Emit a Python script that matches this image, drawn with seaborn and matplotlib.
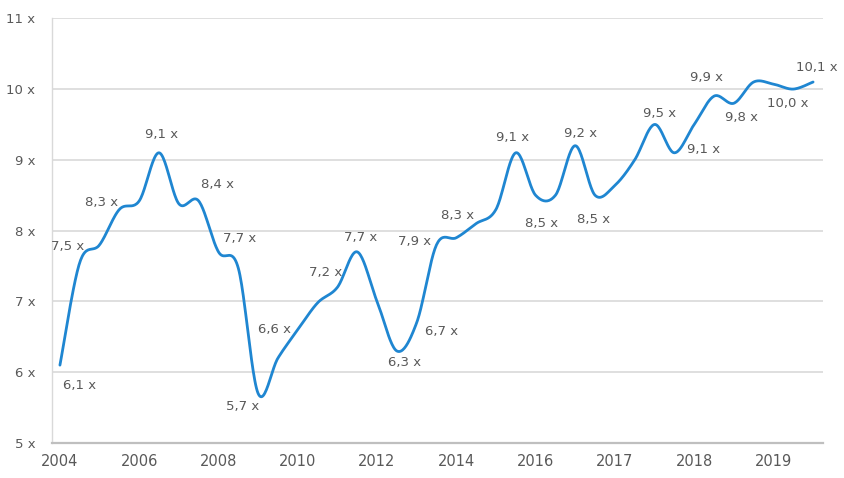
import numpy as np
import pandas as pd
import matplotlib
matplotlib.use("Agg")
import matplotlib.pyplot as plt
import seaborn as sns

# ---- data ----
values = [6.1, 7.55, 7.8, 8.3, 8.42, 9.1, 8.38, 8.42, 7.7, 7.47,
          5.7, 6.2, 6.6, 6.98, 7.2, 7.7, 7.0, 6.3, 6.7, 7.8,
          7.9, 8.1, 8.3, 9.1, 8.5, 8.5, 9.2, 8.5, 8.64, 9.0,
          9.5, 9.1, 9.5, 9.9, 9.8, 10.1, 10.07, 10.0, 10.1]
tick_labels = ["2004", "2006", "2008", "2010", "2012", "2014",
               "2016", "2017", "2018", "2019"]
y_ticks = [5, 6, 7, 8, 9, 10, 11]
label_idx = [0, 1, 3, 5, 7, 8, 10, 12, 14, 15, 17, 18, 19, 22, 23,
             24, 26, 27, 30, 31, 33, 34, 37, 38]
label_text = ["6,1 x", "7,5 x", "8,3 x", "9,1 x", "8,4 x", "7,7 x", "5,7 x",
              "6,6 x", "7,2 x", "7,7 x", "6,3 x", "6,7 x", "7,9 x", "8,3 x",
              "9,1 x", "8,5 x", "9,2 x", "8,5 x", "9,5 x", "9,1 x", "9,9 x",
              "9,8 x", "10,0 x", "10,1 x"]

# label placement offsets in pixels (dx, dy up)
label_offsets = [(20, -20), (-12, 16), (-18, 7), (3, 18), (19, 16), (21, 13),
                 (-16, -13), (-23, 0), (-12, 15), (3, 14), (8, -12), (25, -9),
                 (-22, 3), (-38, -6), (-3, 15), (6, -28), (5, 12), (-2, -24),
                 (5, 11), (29, 3), (-7, 19), (8, -14), (-6, -14), (4, 15)]

# ---- smooth curve (Excel-style smoothed line = Catmull-Rom through the points) ----
def smooth(xs, ys, n=24):
    px = np.concatenate([[xs[0]], xs, [xs[-1]]]).astype(float)
    py = np.concatenate([[ys[0]], ys, [ys[-1]]]).astype(float)
    out_x, out_y = [], []
    t = np.linspace(0, 1, n, endpoint=False)
    for i in range(1, len(px) - 2):
        for arr, out in ((px, out_x), (py, out_y)):
            p0, p1, p2, p3 = arr[i - 1], arr[i], arr[i + 1], arr[i + 2]
            out.extend(0.5 * (2 * p1 + (-p0 + p2) * t
                              + (2 * p0 - 5 * p1 + 4 * p2 - p3) * t ** 2
                              + (-p0 + 3 * p1 - 3 * p2 + p3) * t ** 3))
    out_x.append(xs[-1]); out_y.append(ys[-1])
    return np.array(out_x), np.array(out_y)

idx = np.arange(len(values))
sx, sy = smooth(idx, np.array(values))
df = pd.DataFrame({"x": sx, "y": sy})

sns.set_theme(style="white")
plt.rcParams["font.family"] = ["DejaVu Sans"]

W, H = 845, 478
fig = plt.figure(figsize=(W / 100, H / 100), dpi=100)
ax = fig.add_axes([52 / W, 1 - 443 / H, (823 - 52) / W, (443 - 18.3) / H])

sns.lineplot(data=df, x="x", y="y", ax=ax, color="#1f86d1", linewidth=2.0,
             sort=False, estimator=None)

ax.set_xlim(-0.4, 38.5)
ax.set_ylim(5, 11)
ax.set_yticks(y_ticks)
ax.set_yticklabels([f"{v} x" for v in y_ticks])
ax.set_xticks(np.arange(0, len(values), 4))
ax.set_xticklabels(tick_labels)
ax.set_xlabel("")
ax.set_ylabel("")

grey = "#595959"
ax.tick_params(axis="y", length=0, pad=12, labelsize=9.5, labelcolor=grey)
ax.tick_params(axis="x", length=0, pad=8, labelsize=10.5, labelcolor=grey)
ax.yaxis.grid(True, color="#d9d9d9", linewidth=1.2)
ax.xaxis.grid(False)
ax.set_axisbelow(True)
for s in ["top", "right"]:
    ax.spines[s].set_visible(False)
ax.spines["left"].set_color("#d9d9d9")
ax.spines["left"].set_linewidth(1.0)
ax.spines["bottom"].set_color("#bfbfbf")
ax.spines["bottom"].set_linewidth(1.6)

for i, txt, (dx, dy) in zip(label_idx, label_text, label_offsets):
    ax.annotate(txt, (i, values[i]), xytext=(dx, dy), textcoords="offset pixels",
                ha="center", va="center", fontsize=9.5, color=grey)

fig.savefig("out.png", dpi=100)
